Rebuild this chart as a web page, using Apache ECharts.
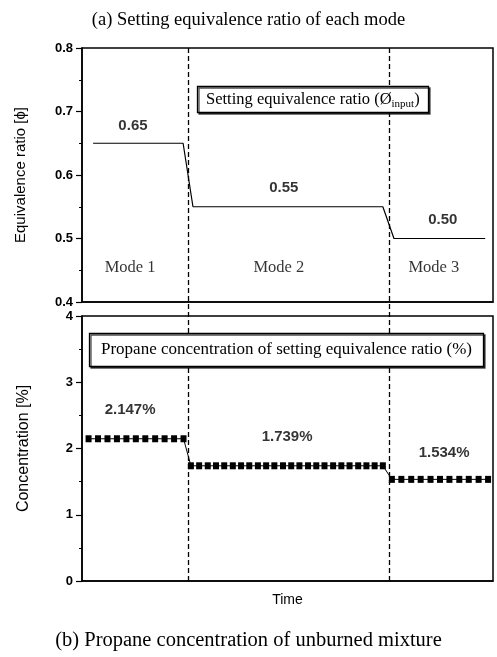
<!DOCTYPE html>
<html>
<head>
<meta charset="utf-8">
<script src="https://cdn.jsdelivr.net/npm/echarts@6/dist/echarts.min.js"></script>
<style>
  html, body { margin: 0; padding: 0; background: #fff; }
  #chart { width: 497px; height: 657px; }
</style>
</head>
<body>
<div id="chart"></div>
<script>
// Setting equivalence ratio (top panel): break points of the input schedule
const phiTime  = [2.7, 24.6, 27.0, 73.2, 75.9, 98.1];
const phiValue = [0.65, 0.65, 0.55, 0.55, 0.50, 0.50];

// Propane concentration (bottom panel): sample times in each mode
const concTimeMode1 = [1.6, 3.9, 6.2, 8.5, 10.8, 13.1, 15.4, 17.8, 20.1, 22.4, 24.7];
const concTimeMode2 = [26.5, 28.5, 30.6, 32.6, 34.6, 36.7, 38.7, 40.7, 42.8, 44.8, 46.8, 48.9,
                       50.9, 52.9, 55.0, 57.0, 59.0, 61.1, 63.1, 65.1, 67.2, 69.2, 71.2, 73.2];
const concTimeMode3 = [75.4, 77.7, 80.1, 82.4, 84.8, 87.1, 89.4, 91.8, 94.1, 96.5, 98.8];
const modeConcentration = [2.147, 1.739, 1.534];
const modePhi = [0.65, 0.55, 0.50];

const modeNames = ['Mode 1', 'Mode 2', 'Mode 3'];
const modeBoundaries = [25.9, 74.8];

const SERIF = "'Liberation Serif', 'Times New Roman', serif";
const SANS = "'Liberation Sans', Arial, sans-serif";

const phiData = phiTime.map((t, i) => [t, phiValue[i]]);
const concData = []
  .concat(concTimeMode1.map(t => [t, modeConcentration[0]]))
  .concat(concTimeMode2.map(t => [t, modeConcentration[1]]))
  .concat(concTimeMode3.map(t => [t, modeConcentration[2]]));

const chart = echarts.init(document.getElementById('chart'), null, { renderer: 'canvas' });

const yAxisCommon = {
  type: 'value',
  axisLine: { show: true, lineStyle: { color: '#000', width: 1.5 } },
  axisTick: { show: true, inside: false, length: 6, lineStyle: { color: '#000', width: 1.2 } },
  minorTick: { show: true, splitNumber: 2, length: 3, lineStyle: { color: '#000', width: 1 } },
  splitLine: { show: false },
  axisLabel: { color: '#000', fontFamily: SANS, fontSize: 13, fontWeight: 'bold', margin: 9 },
  nameLocation: 'middle'
};

const xAxisCommon = {
  type: 'value', min: 0, max: 100,
  axisLine: { show: true, onZero: false, lineStyle: { color: '#000', width: 1.5 } },
  axisTick: { show: false },
  axisLabel: { show: false },
  splitLine: { show: false }
};

const valueLabel = (fmt, offsetY) => ({
  show: true, position: 'inside', offset: [0, offsetY],
  color: '#000', fontFamily: SANS, fontSize: 15, fontWeight: 'bold',
  formatter: p => fmt(p.value[1])
});

chart.setOption({
  animation: false,
  backgroundColor: '#fff',
  title: [
    {
      text: '(a) Setting equivalence ratio of each mode',
      left: 'center', top: 6,
      textStyle: { fontFamily: SERIF, fontSize: 18.5, fontWeight: 'normal', color: '#000' }
    },
    {
      text: '(b) Propane concentration of unburned mixture',
      left: 'center', top: 625,
      textStyle: { fontFamily: SERIF, fontSize: 20.5, fontWeight: 'normal', color: '#000' }
    },
    {
      text: 'Setting equivalence ratio (Ø{sub|input})',
      left: 197, top: 86,
      padding: [4, 9, 3, 9],
      borderColor: '#000', borderWidth: 1.3, backgroundColor: '#fff',
      shadowColor: 'rgba(0,0,0,0.7)', shadowOffsetX: 1.5, shadowOffsetY: 1.5,
      textStyle: {
        fontFamily: SERIF, fontSize: 16.5, fontWeight: 'normal', color: '#000', lineHeight: 20,
        rich: { sub: { fontFamily: SERIF, fontSize: 11, color: '#000', verticalAlign: 'bottom', lineHeight: 20 } }
      }
    },
    {
      text: 'Propane concentration of setting equivalence ratio (%)',
      left: 89, top: 333,
      padding: [8, 12, 8, 12],
      borderColor: '#000', borderWidth: 1.3, backgroundColor: '#fff',
      shadowColor: 'rgba(0,0,0,0.7)', shadowOffsetX: 1.5, shadowOffsetY: 1.5,
      textStyle: { fontFamily: SERIF, fontSize: 17, fontWeight: 'normal', color: '#000', lineHeight: 18 }
    }
  ],
  grid: [
    { left: 82, right: 4, top: 48, height: 254, show: true, borderColor: '#000', borderWidth: 1.5, backgroundColor: 'transparent' },
    { left: 82, right: 4, top: 316, height: 265, show: true, borderColor: '#000', borderWidth: 1.5, backgroundColor: 'transparent' },
    { left: 82, right: 4, top: 48, height: 533, show: false }
  ],
  xAxis: [
    Object.assign({}, xAxisCommon, { gridIndex: 0 }),
    Object.assign({}, xAxisCommon, {
      gridIndex: 1, name: 'Time', nameLocation: 'middle', nameGap: 12,
      nameTextStyle: { color: '#000', fontFamily: SANS, fontSize: 14 }
    }),
    { type: 'value', gridIndex: 2, min: 0, max: 100, show: false }
  ],
  yAxis: [
    Object.assign({}, yAxisCommon, {
      gridIndex: 0, min: 0.4, max: 0.8, interval: 0.1,
      name: 'Equivalence ratio [\u03D5]', nameGap: 54,
      nameTextStyle: { color: '#000', fontFamily: SANS, fontSize: 15 }
    }),
    Object.assign({}, yAxisCommon, {
      gridIndex: 1, min: 0, max: 4, interval: 1,
      name: 'Concentration [%]', nameGap: 50,
      nameTextStyle: { color: '#000', fontFamily: SANS, fontSize: 16 }
    }),
    { type: 'value', gridIndex: 2, min: 0, max: 1, show: false }
  ],
  series: [
    {
      // Mode boundaries spanning both panels
      type: 'line', xAxisIndex: 2, yAxisIndex: 2, data: [], silent: true,
      markLine: {
        silent: true, symbol: ['none', 'none'], label: { show: false },
        lineStyle: { color: '#000', type: [5, 3], width: 1.3 },
        data: modeBoundaries.map(x => ({ xAxis: x }))
      }
    },
    {
      type: 'line', xAxisIndex: 0, yAxisIndex: 0, data: phiData,
      symbol: 'none', lineStyle: { color: '#000', width: 1.2 }, z: 3
    },
    {
      type: 'line', xAxisIndex: 1, yAxisIndex: 1, data: concData,
      symbol: 'rect', symbolSize: [6, 7],
      itemStyle: { color: '#000' },
      lineStyle: { color: '#000', width: 1 }, z: 3
    },
    {
      // Values of the equivalence ratio steps
      type: 'scatter', xAxisIndex: 0, yAxisIndex: 0, symbolSize: 0, silent: true,
      data: [
        { value: [12.4, modePhi[0]], label: valueLabel(v => v.toFixed(2), -17) },
        { value: [49.1, modePhi[1]], label: valueLabel(v => v.toFixed(2), -19) },
        { value: [87.8, modePhi[2]], label: valueLabel(v => v.toFixed(2), -19) }
      ]
    },
    {
      // Mode names along the bottom of the top panel
      type: 'scatter', xAxisIndex: 0, yAxisIndex: 0, symbolSize: 0, silent: true,
      label: { show: true, position: 'inside', color: '#000', fontFamily: SERIF, fontSize: 16.5,
               formatter: p => p.name },
      data: [
        { name: modeNames[0], value: [11.7, 0.4535] },
        { name: modeNames[1], value: [47.9, 0.4535] },
        { name: modeNames[2], value: [85.6, 0.4535] }
      ]
    },
    {
      // Propane concentration values of each mode
      type: 'scatter', xAxisIndex: 1, yAxisIndex: 1, symbolSize: 0, silent: true,
      data: [
        { value: [11.7, modeConcentration[0]], label: valueLabel(v => v.toFixed(3) + '%', -29) },
        { value: [49.9, modeConcentration[1]], label: valueLabel(v => v.toFixed(3) + '%', -29) },
        { value: [88.1, modeConcentration[2]], label: valueLabel(v => v.toFixed(3) + '%', -27) }
      ]
    }
  ]
});
</script>
</body>
</html>
